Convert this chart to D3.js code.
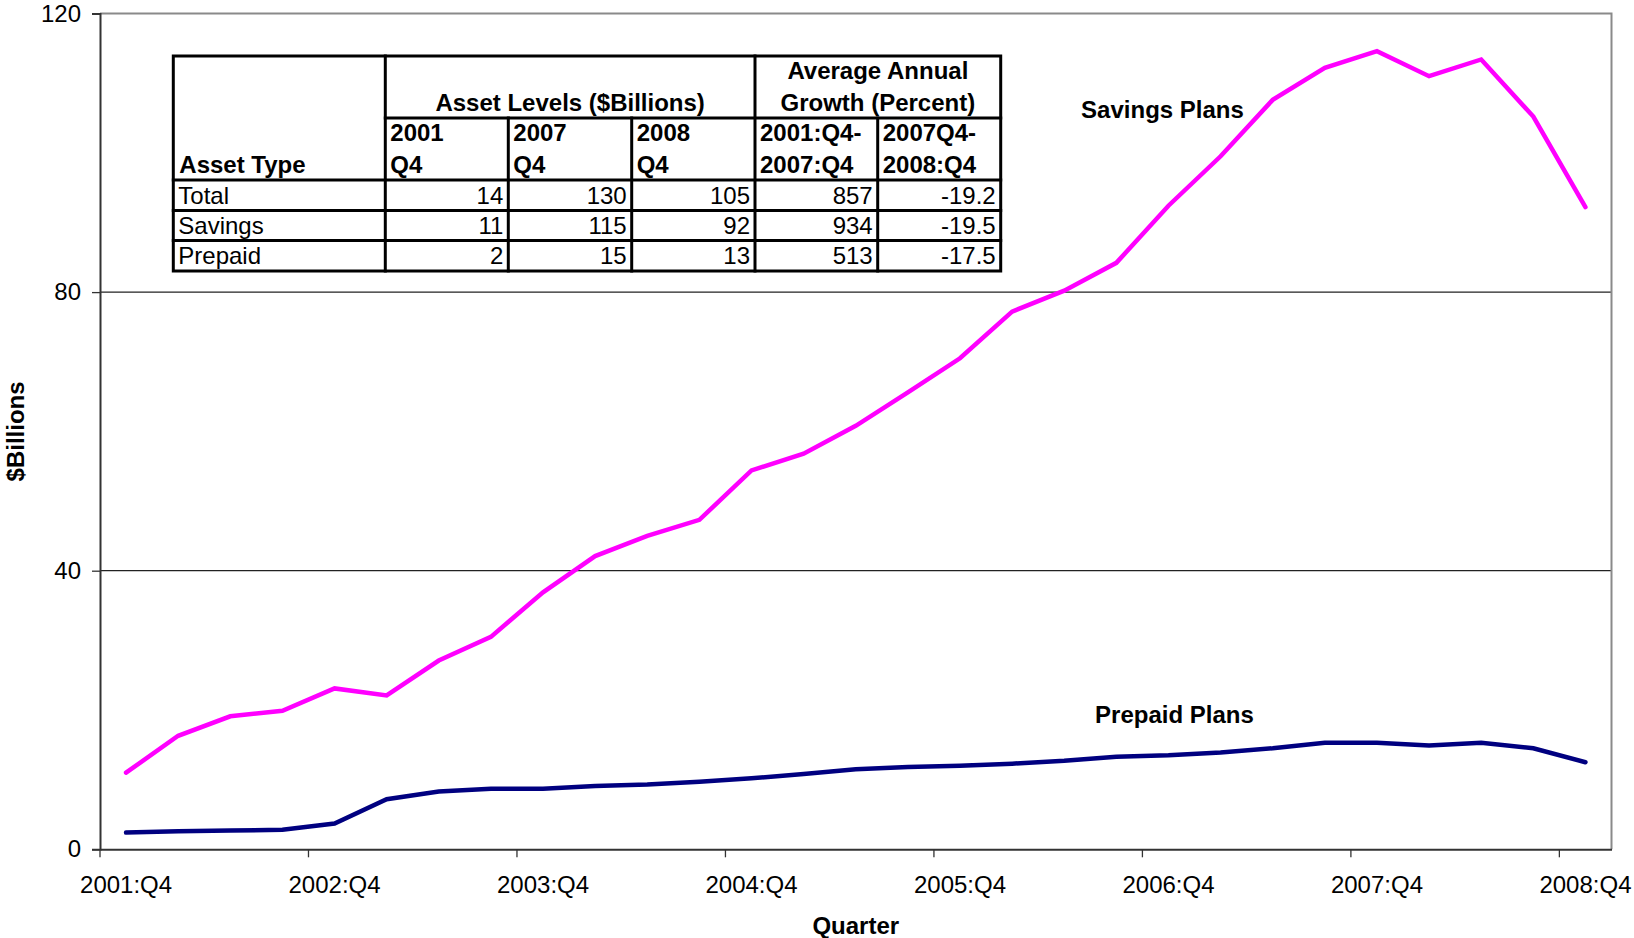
<!DOCTYPE html>
<html>
<head>
<meta charset="utf-8">
<script src="https://cdn.jsdelivr.net/npm/d3@7"></script>
<style>
  body { margin: 0; background: #fff; }
  text { font-family: "Liberation Sans", Arial, sans-serif; fill: #000; }
  .bold { font-weight: bold; }
</style>
</head>
<body>
<div id="graph-container"></div>
<script>
// quarters on the x axis (only every 4th one gets a label)
const quarters = [
  '2001:Q4',
  '2002:Q1', '2002:Q2', '2002:Q3', '2002:Q4',
  '2003:Q1', '2003:Q2', '2003:Q3', '2003:Q4',
  '2004:Q1', '2004:Q2', '2004:Q3', '2004:Q4',
  '2005:Q1', '2005:Q2', '2005:Q3', '2005:Q4',
  '2006:Q1', '2006:Q2', '2006:Q3', '2006:Q4',
  '2007:Q1', '2007:Q2', '2007:Q3', '2007:Q4',
  '2008:Q1', '2008:Q2', '2008:Q3', '2008:Q4'
];

// $ billions
const savings = [
  11.0, 16.3, 19.1, 19.9, 23.1, 22.1, 27.1, 30.5, 36.9, 42.1,
  45.0, 47.3, 54.4, 56.8, 60.8, 65.6, 70.5, 77.2, 80.2, 84.2,
  92.4, 99.5, 107.6, 112.2, 114.6, 111.0, 113.4, 105.2, 92.2
];
const prepaid = [
  2.4, 2.6, 2.7, 2.8, 3.7, 7.2, 8.3, 8.7, 8.7, 9.1,
  9.3, 9.7, 10.2, 10.8, 11.5, 11.8, 12.0, 12.3, 12.7, 13.3,
  13.5, 13.9, 14.5, 15.3, 15.3, 14.9, 15.3, 14.5, 12.5
];

const yTicks = [0, 40, 80, 120];
const gridValues = [40, 80];

// inset table
const tableTypes = ['Total', 'Savings', 'Prepaid'];
const tableGroups = [['Asset Levels ($Billions)'], ['Average Annual', 'Growth (Percent)']];
const tableCols = [['2001', 'Q4'], ['2007', 'Q4'], ['2008', 'Q4'], ['2001:Q4-', '2007:Q4'], ['2007Q4-', '2008:Q4']];
const tableValues = [
  ['14', '130', '105', '857', '-19.2'],
  ['11', '115', '92', '934', '-19.5'],
  ['2', '15', '13', '513', '-17.5']
];

const seriesLabels = ['Savings Plans', 'Prepaid Plans'];

// layout
const W = 1634, H = 938;
const plot = { left: 100, right: 1611.5, top: 13.5, bottom: 849.3 };
const colX = [173.3, 385.3, 508.3, 631.7, 755, 877.7, 1000.7];
const rowY = [56, 118, 180, 210.5, 240.5, 271];
const fontSize = 24;

const svg = d3.select('#graph-container')
              .append('svg')
              .attr('width', W)
              .attr('height', H);

const x = d3.scaleBand()
            .domain(quarters)
            .range([plot.left, plot.right])
            .padding(0);
const y = d3.scaleLinear()
            .domain([0, 120])
            .range([plot.bottom, plot.top]);
const cx = q => x(q) + x.bandwidth() / 2;

// gridlines
svg.append('g')
   .selectAll('line')
   .data(gridValues)
   .enter()
   .append('line')
   .attr('x1', plot.left)
   .attr('x2', plot.right)
   .attr('y1', d => y(d))
   .attr('y2', d => y(d))
   .attr('stroke', '#222')
   .attr('stroke-width', 1.3);

// gray frame on top and right
svg.append('path')
   .attr('d', `M${plot.left},${y(120)}H${plot.right}V${plot.bottom}`)
   .attr('fill', 'none')
   .attr('stroke', '#8a8a8a')
   .attr('stroke-width', 2);

// y axis
const yAxis = svg.append('g')
                 .attr('transform', `translate(${plot.left},0)`)
                 .call(d3.axisLeft(y).tickValues(yTicks).tickSize(8).tickPadding(11));
yAxis.select('.domain').attr('stroke', '#333').attr('stroke-width', 2);
yAxis.selectAll('.tick line').attr('stroke', '#333').attr('stroke-width', 1.3);
yAxis.selectAll('.tick text')
     .attr('font-size', fontSize)
     .attr('font-family', '"Liberation Sans", Arial, sans-serif');

// x axis: labels on every 4th quarter, ticks between categories
const labelled = quarters.filter((q, i) => i % 4 === 0);
const xAxis = svg.append('g')
                 .attr('transform', `translate(0,${plot.bottom})`)
                 .call(d3.axisBottom(x).tickValues(labelled).tickSize(0).tickPadding(27));
xAxis.select('.domain').attr('stroke', '#333').attr('stroke-width', 2);
xAxis.selectAll('.tick text')
     .attr('font-size', fontSize)
     .attr('font-family', '"Liberation Sans", Arial, sans-serif');

svg.append('g')
   .selectAll('line')
   .data(labelled)
   .enter()
   .append('line')
   .attr('x1', d => x(d))
   .attr('x2', d => x(d))
   .attr('y1', plot.bottom)
   .attr('y2', plot.bottom + 8)
   .attr('stroke', '#333')
   .attr('stroke-width', 1.3);

// axis titles
svg.append('text')
   .attr('class', 'bold')
   .attr('text-anchor', 'middle')
   .attr('x', (plot.left + plot.right) / 2)
   .attr('y', 934)
   .attr('font-size', fontSize)
   .text('Quarter');

svg.append('text')
   .attr('class', 'bold')
   .attr('text-anchor', 'middle')
   .attr('transform', `translate(24,${(plot.top + plot.bottom) / 2}) rotate(-90)`)
   .attr('font-size', fontSize)
   .text('$Billions');

// series lines
const line = d3.line()
               .x((d, i) => cx(quarters[i]))
               .y(d => y(d));

[[savings, '#ff00ff'], [prepaid, '#000080']].forEach(function(s) {
  svg.append('path')
     .datum(s[0])
     .attr('d', line)
     .attr('fill', 'none')
     .attr('stroke', s[1])
     .attr('stroke-width', 4.5)
     .attr('stroke-linejoin', 'miter')
     .attr('stroke-linecap', 'round');
});

// series labels
svg.append('text')
   .attr('class', 'bold')
   .attr('text-anchor', 'middle')
   .attr('x', cx(quarters[20]) - 6)
   .attr('y', y(105))
   .attr('font-size', fontSize)
   .text(seriesLabels[0]);

svg.append('text')
   .attr('class', 'bold')
   .attr('text-anchor', 'middle')
   .attr('x', cx(quarters[20]) + 6)
   .attr('y', y(18.2))
   .attr('font-size', fontSize)
   .text(seriesLabels[1]);

// inset table
const tbl = svg.append('g');
const tLine = function(x1, y1, x2, y2) {
  tbl.append('line')
     .attr('x1', x1).attr('y1', y1)
     .attr('x2', x2).attr('y2', y2)
     .attr('stroke', '#000')
     .attr('stroke-width', 3)
     .attr('stroke-linecap', 'square');
};
const tText = function(tx, ty, text, anchor, bold) {
  tbl.append('text')
     .attr('x', tx)
     .attr('y', ty)
     .attr('text-anchor', anchor)
     .attr('font-size', fontSize)
     .attr('class', bold ? 'bold' : null)
     .text(text);
};

tbl.append('rect')
   .attr('x', colX[0]).attr('y', rowY[0])
   .attr('width', colX[6] - colX[0])
   .attr('height', rowY[5] - rowY[0])
   .attr('fill', '#fff')
   .attr('stroke', '#000')
   .attr('stroke-width', 3);

// verticals
tLine(colX[1], rowY[0], colX[1], rowY[5]);
tLine(colX[4], rowY[0], colX[4], rowY[5]);
[2, 3, 5].forEach(c => tLine(colX[c], rowY[1], colX[c], rowY[5]));
// horizontals
tLine(colX[1], rowY[1], colX[6], rowY[1]);
[2, 3, 4].forEach(r => tLine(colX[0], rowY[r], colX[6], rowY[r]));

tText(colX[0] + 6, rowY[2] - 7, 'Asset Type', 'start', true);
tText((colX[1] + colX[4]) / 2, rowY[1] - 7, tableGroups[0][0], 'middle', true);
tText((colX[4] + colX[6]) / 2, rowY[1] - 39, tableGroups[1][0], 'middle', true);
tText((colX[4] + colX[6]) / 2, rowY[1] - 7, tableGroups[1][1], 'middle', true);

tableCols.forEach(function(h, c) {
  tText(colX[c + 1] + 5, rowY[1] + 23, h[0], 'start', true);
  tText(colX[c + 1] + 5, rowY[2] - 7, h[1], 'start', true);
});

tableTypes.forEach(function(name, r) {
  let base = rowY[r + 3] - 7;
  tText(colX[0] + 5, base, name, 'start', false);
  tableValues[r].forEach(function(v, c) {
    tText(colX[c + 2] - 5, base, v, 'end', false);
  });
});
</script>
</body>
</html>
